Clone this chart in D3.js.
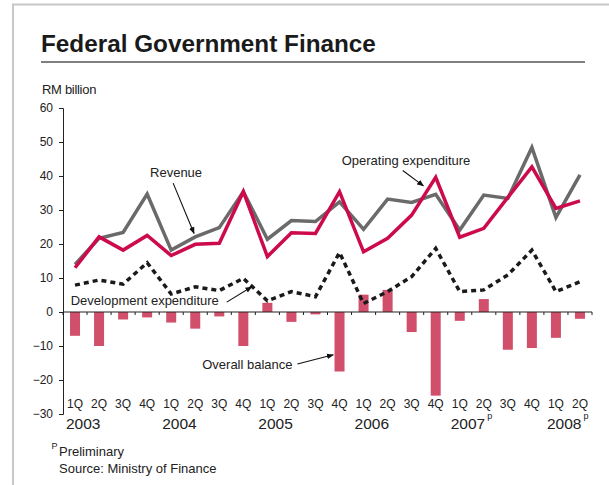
<!DOCTYPE html>
<html>
<head>
<meta charset="utf-8">
<script src="https://cdn.jsdelivr.net/npm/d3@7"></script>
<style>
  body { margin: 0; background: #fff; }
  svg { display: block; font-family: Arial, "Liberation Sans", sans-serif; }
  .domain { stroke: #222; }
</style>
</head>
<body>
<svg id="chart" width="609" height="485"></svg>
<script>
// quarters 1Q 2003 .. 2Q 2008
var quarters = ["1Q","2Q","3Q","4Q","1Q","2Q","3Q","4Q","1Q","2Q","3Q","4Q",
                "1Q","2Q","3Q","4Q","1Q","2Q","3Q","4Q","1Q","2Q"]
var years = ["2003","2004","2005","2006","2007","2008"]
var prelimYears = ["2007","2008"]

var revenue = [14.0,21.7,23.4,34.7,18.2,22.1,24.8,35.4,21.4,26.9,26.6,32.4,
               24.3,33.2,32.2,34.6,24.1,34.4,33.4,48.4,27.8,40.3]
var operating = [13.0,22.1,18.2,22.5,16.6,19.9,20.2,35.4,16.3,23.3,23.1,35.4,
                 17.7,21.7,28.5,39.6,22.0,24.6,33.7,42.7,30.5,32.7]
var development = [7.9,9.4,8.2,14.5,5.3,7.4,6.3,9.9,3.3,6.0,4.5,17.5,
                   2.5,6.0,10.4,18.7,6.0,6.5,10.9,18.2,6.0,8.9]
var balance = [-7.0,-10.0,-2.2,-1.6,-3.1,-4.9,-1.3,-10.0,2.7,-2.9,-0.7,-17.5,
               5.1,6.5,-5.9,-24.6,-2.6,3.8,-11.1,-10.6,-7.6,-2.0]
var yTicks = [-30,-20,-10,0,10,20,30,40,50,60]

// annotation labels: text anchor point and arrow (index, value) in data space
var notes = [
  {text: "Revenue", ti: 3.12, tv: 39.6, a: [4.08, 37.9], b: [4.95, 23.1]},
  {text: "Operating expenditure", ti: 11.09, tv: 43.2, a: [13.63, 41.6], b: [14.49, 37.1]},
  {text: "Development expenditure", ti: -0.18, tv: 2.1, a: [6.31, 2.9], b: [7.35, 7.4]},
  {text: "Overall balance", ti: 5.29, tv: -16.9, a: [9.25, -15.3], b: [10.74, -12.6]}
]

var svg = d3.select("#chart")

// frame
svg.append("line").attr("x1", 13).attr("x2", 13).attr("y1", 4).attr("y2", 485)
  .attr("stroke", "#c8c8c8").attr("stroke-width", 2)
svg.append("line").attr("x1", 12).attr("x2", 609).attr("y1", 4.5).attr("y2", 4.5)
  .attr("stroke", "#c8c8c8").attr("stroke-width", 2)

svg.append("text").attr("x", 41).attr("y", 52)
  .attr("font-size", "24.3px").attr("font-weight", "bold").attr("fill", "#1a1a1a")
  .text("Federal Government Finance")
svg.append("line").attr("x1", 41).attr("x2", 585).attr("y1", 62).attr("y2", 62)
  .attr("stroke", "#555").attr("stroke-width", 1.5)

svg.append("text").attr("x", 42).attr("y", 94).attr("font-size", "13px")
  .attr("fill", "#222").attr("letter-spacing", "-0.3px").text("RM billion")

var x = d3.scaleBand().domain(d3.range(quarters.length)).range([63, 592])
var y = d3.scaleLinear().domain([-30, 60]).range([414, 108])
var bw = 10
var cx = function(i) { return x(i) + x.bandwidth() / 2 }
var xi = d3.scaleLinear().domain([0, 1]).range([cx(0), cx(1)])

// y axis
var yAxis = svg.append("g").attr("transform", "translate(63,0)")
  .call(d3.axisLeft(y).tickValues(yTicks).tickSize(4).tickPadding(6))
yAxis.selectAll("text").attr("font-size", "12px").attr("fill", "#222")
  .attr("font-family", "Arial, 'Liberation Sans', sans-serif")
yAxis.selectAll("line").attr("stroke", "#222")

// bars
svg.append("g").selectAll("rect").data(balance).enter().append("rect")
  .attr("x", function(d, i) { return cx(i) - bw / 2 })
  .attr("width", bw)
  .attr("y", function(d) { return y(Math.max(0, d)) })
  .attr("height", function(d) { return Math.abs(y(d) - y(0)) })
  .attr("fill", "#d24f6b")

// x axis line at zero with ticks at band edges
svg.append("line").attr("x1", 63).attr("x2", 592).attr("y1", y(0)).attr("y2", y(0))
  .attr("stroke", "#222").attr("stroke-width", 1.2)
var edges = d3.range(quarters.length + 1).map(function(i) { return 63 + i * x.step() })
svg.append("g").selectAll("line").data(edges).enter().append("line")
  .attr("x1", function(d) { return d }).attr("x2", function(d) { return d })
  .attr("y1", y(0)).attr("y2", y(0) + 3)
  .attr("stroke", "#222").attr("stroke-width", 1)

// lines
var line = function(vals) {
  return d3.line().x(function(d, i) { return cx(i) }).y(function(d) { return y(d) })(vals)
}
svg.append("path").attr("d", line(development)).attr("fill", "none")
  .attr("stroke", "#1a1a1a").attr("stroke-width", 3.5).attr("stroke-dasharray", "5,4")
svg.append("path").attr("d", line(revenue)).attr("fill", "none")
  .attr("stroke", "#6a6a6a").attr("stroke-width", 3.5).attr("stroke-linejoin", "miter")
svg.append("path").attr("d", line(operating)).attr("fill", "none")
  .attr("stroke", "#cc0a4c").attr("stroke-width", 3.5).attr("stroke-linejoin", "miter")

// quarter + year labels
svg.append("g").selectAll("text").data(quarters).enter().append("text")
  .attr("x", function(d, i) { return cx(i) }).attr("y", 408)
  .attr("text-anchor", "middle").attr("font-size", "12px").attr("fill", "#222")
  .text(function(d) { return d })
var yearG = svg.append("g").selectAll("g").data(years).enter().append("g")
yearG.append("text")
  .attr("x", function(d, i) { return x(i * 4) + 3 }).attr("y", 429)
  .attr("font-size", "15.5px").attr("fill", "#222")
  .text(function(d) { return d })
  .each(function(d) {
    if (prelimYears.indexOf(d) < 0) return
    var bb = this.getBBox()
    d3.select(this.parentNode).append("text")
      .attr("x", bb.x + bb.width + 2).attr("y", 419)
      .attr("font-size", "9px").attr("fill", "#222").text("p")
  })

// annotations
var defs = svg.append("defs")
defs.append("marker").attr("id", "arr").attr("viewBox", "0 0 10 10")
  .attr("refX", 9).attr("refY", 5).attr("markerWidth", 7).attr("markerHeight", 7)
  .attr("markerUnits", "userSpaceOnUse").attr("orient", "auto")
  .append("path").attr("d", "M0,1 L10,5 L0,9 z").attr("fill", "#111")

notes.forEach(function(n) {
  svg.append("text").attr("x", xi(n.ti)).attr("y", y(n.tv))
    .attr("font-size", "13px").attr("fill", "#222").text(n.text)
  svg.append("line")
    .attr("x1", xi(n.a[0])).attr("y1", y(n.a[1]))
    .attr("x2", xi(n.b[0])).attr("y2", y(n.b[1]))
    .attr("stroke", "#111").attr("stroke-width", 1.1).attr("marker-end", "url(#arr)")
})

// footnotes
svg.append("text").attr("x", 51.5).attr("y", 449).attr("font-size", "9px")
  .attr("fill", "#222").text("P")
svg.append("text").attr("x", 59).attr("y", 456).attr("font-size", "13px")
  .attr("fill", "#222").text("Preliminary")
svg.append("text").attr("x", 59).attr("y", 473).attr("font-size", "13px")
  .attr("fill", "#222").text("Source: Ministry of Finance")
</script>
</body>
</html>
